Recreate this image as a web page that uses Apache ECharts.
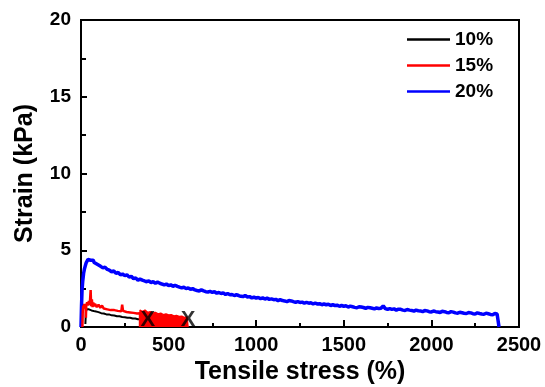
<!DOCTYPE html>
<html>
<head>
<meta charset="utf-8">
<script src="https://cdn.jsdelivr.net/npm/echarts@6/dist/echarts.min.js"></script>
<style>
html,body{margin:0;padding:0;background:#fff;}
#chart{width:545px;height:387px;}
</style>
</head>
<body>
<div id="chart"></div>
<script>
// ---- data ----
var seriesNames = ['10%', '15%', '20%'];
var xTicks = [0, 500, 1000, 1500, 2000, 2500];
var yTicks = [0, 5, 10, 15, 20];

// 10% curve (black)
var data10 = [[25,0.2],[28,1.0],[32,1.15],[38,1.1],[45,1.15],[52,1.05],[60,1.08],[70,1.0],[80,1.02],[90,0.95],[100,0.97],[115,0.9],[130,0.88],[145,0.82],[160,0.82],[175,0.76],[190,0.75],[205,0.7],[220,0.7],[235,0.65],[250,0.64],[265,0.6],[280,0.6],[295,0.55],[310,0.55],[325,0.5],[340,0.5],[355,0.45],[370,0.44],[382,0.4]];

// 15% curve (red)
var data15 = [[8,0],[10,1.0],[13,1.4],[16,1.2],[19,1.5],[22,1.3],[26,1.5],[28,0.6],[30,1.4],[35,1.6],[40,1.4],[45,1.7],[50,1.45],[55,2.4],[58,1.35],[62,1.8],[66,1.3],[70,1.6],[75,1.35],[80,1.5],[90,1.3],[100,1.45],[110,1.25],[120,1.4],[130,1.2],[140,1.3],[150,1.15],[160,1.28],[170,1.1],[180,1.22],[190,1.1],[200,1.18],[210,1.05],[220,1.15],[230,1.02],[235,1.45],[240,1.05],[250,1.12],[260,0.98],[270,1.08],[280,0.95],[290,1.02],[300,0.92],[310,0.98],[320,0.88],[330,0.95],[337,0.9],[337,0]];
// 15% dense-noise band (filled to zero)
var data15band = [[337,0],[337,1.1],[350,1.0],[365,1.1],[380,0.95],[395,1.0],[410,0.9],[425,0.95],[440,0.85],[455,0.9],[470,0.8],[485,0.85],[500,0.78],[515,0.8],[530,0.72],[545,0.75],[560,0.68],[575,0.7],[590,0.62],[605,0.65],[611,0.6],[611,0]];

// 20% curve (blue)
var data20 = [[0,0],[3,1.4],[6,2.4],[10,3.0],[15,3.5],[20,3.8],[25,4.0],[30,4.2],[35,4.25],[40,4.4],[45,4.3],[50,4.45],[55,4.35],[60,4.4],[65,4.3],[70,4.35],[75,4.2],[80,4.25],[90,4.1],[100,4.05],
[112,3.95],[125,3.85],[137,3.9],[150,3.75],[162,3.7],[175,3.6],[187,3.65],[200,3.5],[212,3.55],[225,3.4],[237,3.45],[250,3.35],[262,3.4],[275,3.25],[287,3.3],[300,3.15],[312,3.2],[325,3.05],[337,3.12],[350,3.05],[362,3.0],[375,2.95],[387,3.0],[400,2.9],[412,2.95],[425,2.85],[437,2.92],[450,2.85],[462,2.8],[475,2.75],[487,2.8],[500,2.7],[512,2.75],[525,2.65],[537,2.72],[550,2.65],[562,2.6],[575,2.55],[587,2.6],[600,2.5],[612,2.55],[625,2.45],[637,2.5],[650,2.42],[662,2.38],[675,2.35],[687,2.42],[700,2.35],[712,2.3],[725,2.28],[737,2.32],[750,2.25],[762,2.3],[775,2.2],[787,2.25],[800,2.18],[812,2.22],[825,2.12],[837,2.18],[850,2.1],[862,2.12],[875,2.05],[887,2.1],[900,2.05],[912,2.0],[925,1.98],[937,2.05],[950,1.95],[962,1.98],[975,1.9],[987,1.95],[1000,1.88],[1012,1.92],[1025,1.85],[1037,1.9],[1050,1.82],[1062,1.88],[1075,1.8],[1087,1.83],[1100,1.78],[1112,1.8],[1125,1.72],[1137,1.78],[1150,1.72],[1162,1.7],[1175,1.65],[1187,1.72],[1200,1.7],[1212,1.65],[1225,1.6],[1237,1.66],[1250,1.6],[1262,1.62],[1275,1.55],[1287,1.6],[1300,1.55],[1312,1.58],[1325,1.5],[1337,1.55],[1350,1.5],[1362,1.52],[1375,1.45],[1387,1.5],[1400,1.45],[1412,1.48],[1425,1.4],[1437,1.45],[1450,1.4],[1462,1.42],[1475,1.35],[1487,1.4],[1500,1.35],[1512,1.38],[1525,1.3],[1537,1.36],[1550,1.32],[1562,1.28],[1575,1.25],[1587,1.32],[1600,1.3],[1612,1.27],[1625,1.22],[1637,1.28],[1650,1.25],[1662,1.22],[1675,1.18],[1687,1.24],[1700,1.2],[1712,1.22],[1725,1.38],[1737,1.2],[1750,1.15],[1762,1.2],[1775,1.15],[1787,1.18],[1800,1.1],[1812,1.16],[1825,1.15],[1837,1.1],[1850,1.08],[1862,1.14],[1875,1.1],[1887,1.08],[1900,1.03],[1912,1.1],[1925,1.06],[1937,1.05],[1950,1.0],[1962,1.07],[1975,1.05],[1987,1.0],[2000,0.98],[2012,1.04],[2025,1.0],[2037,0.98],[2050,0.95],[2062,1.02],[2075,1.0],[2087,0.95],[2100,0.93],[2112,1.0],[2125,0.97],[2137,0.92],[2150,0.9],[2162,0.96],[2175,0.93],[2187,0.9],[2200,0.88],[2212,0.94],[2225,0.92],[2237,0.87],[2250,0.85],[2262,0.92],[2275,0.88],[2287,0.85],[2300,0.83],[2312,0.9],[2325,0.86],[2337,0.82],[2350,0.8],[2362,0.88],[2375,0.85],[2386,0.82],[2386,0]];

// fracture marks "X"
var breakPoints = [[382,0.45],[611,0.45]];

var FONT = '"Liberation Sans", Arial, sans-serif';
var chart = echarts.init(document.getElementById('chart'), null, {renderer:'canvas'});
chart.setOption({
  animation:false,
  backgroundColor:'#fff',
  grid:{left:81,right:26,top:20,bottom:60,containLabel:false,outerBoundsMode:'none',show:true,borderColor:'#000',borderWidth:2,backgroundColor:'transparent'},
  legend:{
    data:seriesNames, orient:'vertical', left:402, top:25,
    icon:'rect', itemWidth:43, itemHeight:2.5, itemGap:7,
    textStyle:{fontFamily:FONT,fontWeight:'bold',fontSize:19,color:'#000'}
  },
  xAxis:{
    type:'value', min:xTicks[0], max:xTicks[xTicks.length-1], interval:500,
    name:'Tensile stress (%)', nameLocation:'middle', nameGap:33,
    nameTextStyle:{fontFamily:FONT,fontWeight:'bold',fontSize:25,color:'#000'},
    axisLine:{show:true,lineStyle:{color:'#000',width:2}},
    axisTick:{show:true,inside:true,length:7,lineStyle:{color:'#000',width:2}},
    minorTick:{show:true,splitNumber:2,length:4,lineStyle:{color:'#000',width:2}},
    axisLabel:{fontFamily:FONT,fontWeight:'bold',fontSize:20,color:'#000',margin:8,formatter:function(v){return String(v);}},
    splitLine:{show:false}
  },
  yAxis:{
    type:'value', min:yTicks[0], max:yTicks[yTicks.length-1], interval:5,
    name:'Strain (kPa)', nameLocation:'middle', nameGap:43,
    nameTextStyle:{fontFamily:FONT,fontWeight:'bold',fontSize:25,color:'#000'},
    axisLine:{show:true,lineStyle:{color:'#000',width:2}},
    axisTick:{show:true,inside:true,length:6,lineStyle:{color:'#000',width:2}},
    minorTick:{show:true,splitNumber:2,length:5,lineStyle:{color:'#000',width:2}},
    axisLabel:{fontFamily:FONT,fontWeight:'bold',fontSize:19,color:'#000',margin:10,formatter:function(v){return String(v);}},
    splitLine:{show:false}
  },
  series:[
    {name:'20%',type:'line',data:data20,symbol:'none',color:'#0000ff',lineStyle:{width:3.5,color:'#0000ff'},z:2},
    {name:'10%',type:'line',data:data10,symbol:'none',color:'#000',lineStyle:{width:2,color:'#000'},z:3},
    {name:'15%',type:'line',data:data15,symbol:'none',color:'#ff0000',lineStyle:{width:2.5,color:'#ff0000'},z:4},
    {name:'15% band',type:'line',data:data15band,symbol:'none',lineStyle:{width:1.5,color:'#ff0000'},areaStyle:{color:'#ff0000',opacity:1},z:4},
    {name:'break',type:'scatter',data:breakPoints,symbolSize:1,itemStyle:{color:'rgba(0,0,0,0)'},z:6,
      label:{show:true,position:'inside',formatter:'X',fontFamily:FONT,fontWeight:'bold',fontSize:22,color:'#000'}}
  ]
});
</script>
</body>
</html>
